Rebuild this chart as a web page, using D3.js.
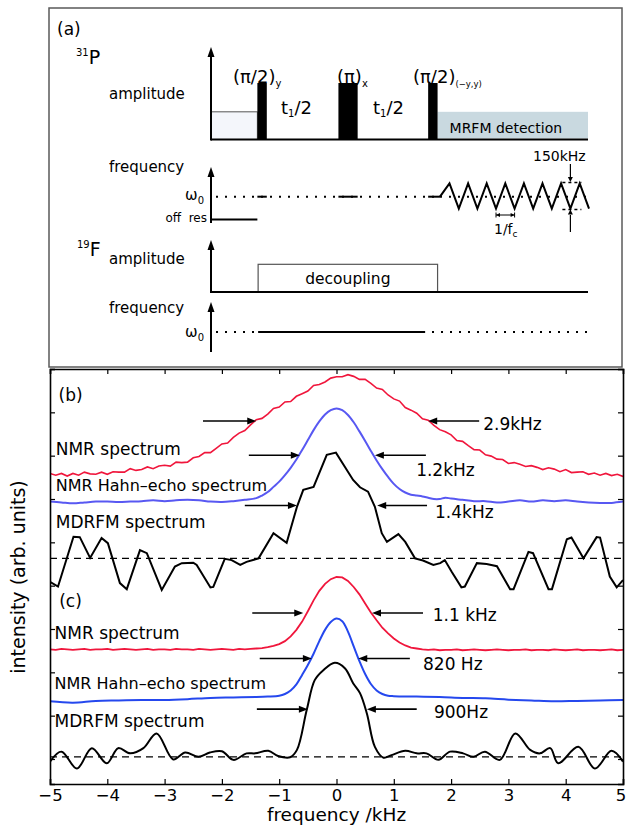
<!DOCTYPE html>
<html><head><meta charset="utf-8">
<script src="https://cdn.jsdelivr.net/npm/d3@7"></script>
<style>
body{margin:0;background:#fff}
svg text{font-family:"DejaVu Sans",sans-serif;fill:#000}
</style></head>
<body><svg id="fig" width="626" height="825"></svg>
<script>
// ================= DATA =================
// frequency axis (kHz)
const xTicks=[-5,-4,-3,-2,-1,0,1,2,3,4,5];
const yTicks=[0,1,2,3,4,5,6,7,8,9];
const freqStart=-5, freqStep=0.1;
// panel (b)
const nmrB=[6.59,6.55,6.59,6.53,6.59,6.55,6.62,6.58,6.57,6.62,
 6.57,6.63,6.62,6.62,6.70,6.66,6.68,6.74,6.70,6.76,
 6.78,6.76,6.85,6.84,6.85,6.95,6.98,7.07,7.07,7.17,
 7.27,7.29,7.42,7.52,7.58,7.71,7.83,7.86,7.96,8.09,
 8.12,8.24,8.25,8.37,8.43,8.49,8.62,8.64,8.70,8.79,
 8.82,8.82,8.87,8.83,8.76,8.76,8.67,8.56,8.53,8.40,
 8.31,8.26,8.11,8.05,7.98,7.85,7.82,7.70,7.60,7.55,
 7.48,7.35,7.33,7.23,7.14,7.13,7.02,6.99,6.92,6.91,
 6.82,6.84,6.80,6.75,6.77,6.73,6.68,6.72,6.69,6.63,
 6.68,6.61,6.62,6.63,6.57,6.60,6.55,6.59,6.54,6.57,
 6.52];
const hahnBx=[-5,-4.8,-4.6,-4.4,-4.2,-4,-3.8,-3.6,-3.4,-3.2,-3,-2.8,-2.6,-2.4,-2.2,-2,-1.8,-1.6,-1.4,
 -1.3,-1.2,-1.1,-1,-0.9,-0.8,-0.7,-0.6,-0.5,-0.4,-0.3,-0.2,-0.1,0,0.1,0.2,0.3,0.4,0.5,0.6,0.7,0.8,0.9,1,1.1,1.2,1.3,1.4,1.5,1.6,1.7,1.8,1.9,2,
 2.2,2.4,2.6,2.8,3,3.2,3.4,3.6,3.8,4,4.2,4.4,4.6,4.8,5];
const hahnBy=[5.94,5.92,5.90,5.92,5.94,5.94,5.93,5.94,5.95,5.97,5.95,5.97,5.98,5.97,5.94,5.93,5.95,5.98,6.02,
 6.08,6.16,6.28,6.40,6.55,6.72,6.91,7.13,7.36,7.59,7.79,7.95,8.05,8.09,8.05,7.94,7.77,7.56,7.34,7.11,6.89,6.69,6.51,6.35,6.23,6.15,6.10,6.08,6.06,6.03,6.00,6.00,6.03,6.01,
 5.98,5.95,5.95,5.92,5.94,5.97,5.94,5.97,5.95,5.97,5.94,5.92,5.91,5.91,5.94];
const mdrfmBx=[-5.00,-4.86,-4.59,-4.48,-4.30,-4.10,-3.99,-3.78,-3.66,-3.43,-3.31,-3.05,-2.82,-2.70,-2.50,-2.44,-2.20,-2.15,-1.95,-1.83,
 -1.68,-1.57,-1.36,-1.10,-0.87,-0.69,-0.58,-0.40,-0.17,-0.01,0.29,0.41,0.55,0.67,0.79,0.88,1.08,1.20,1.37,1.51,
 1.69,1.81,1.89,2.01,2.18,2.24,2.45,2.62,2.80,3.03,3.09,3.35,3.43,3.70,3.76,4.02,4.10,4.31,4.54,4.60,4.77,4.89,5.00];
const mdrfmBy=[4.09,3.98,5.13,5.12,4.64,5.10,4.98,4.06,3.92,4.82,4.75,3.90,4.44,4.52,4.53,4.48,3.96,3.97,4.62,4.59,
 4.48,4.55,4.63,5.21,4.99,5.82,6.21,6.28,7.02,7.07,6.44,6.27,6.17,5.82,5.21,5.01,5.19,5.01,4.63,4.58,
 4.48,4.52,4.59,4.32,3.96,3.98,4.52,4.50,4.45,3.92,3.92,4.78,4.75,3.92,3.92,5.07,5.11,4.63,5.12,5.11,4.21,3.96,4.13];
const baselineB=4.63;
// panel (c)
const nmrC=[2.53,2.52,2.54,2.53,2.52,2.53,2.54,2.52,2.53,2.53,
 2.54,2.52,2.53,2.54,2.53,2.52,2.53,2.54,2.52,2.53,
 2.53,2.52,2.54,2.53,2.53,2.52,2.54,2.53,2.52,2.53,
 2.54,2.53,2.52,2.54,2.53,
 2.54,2.55,2.56,2.58,2.61,2.65,2.72,2.83,2.98,3.17,3.41,3.66,3.88,4.04,4.15,4.20,4.19,4.11,3.97,3.80,3.59,3.38,3.20,3.03,2.90,2.78,2.69,2.62,2.57,2.55,2.53,
 2.52,2.53,2.51,2.52,2.52,2.53,2.51,2.52,2.53,2.52,
 2.51,2.52,2.53,2.52,2.51,2.52,2.52,2.53,2.51,2.52,
 2.52,2.51,2.53,2.52,2.51,2.52,2.53,2.51,2.52,2.52,
 2.51,2.52,2.53,2.51,2.52];
const hahnCx=[-5,-4.6,-4.2,-3.8,-3.4,-3,-2.6,-2.2,-1.8,-1.4,-1.2,-1,-0.9,-0.8,-0.7,-0.6,-0.5,-0.4,-0.3,-0.2,-0.1,0,0.1,0.2,0.3,0.4,0.5,0.6,0.7,0.8,0.9,1,1.4,1.8,2.2,2.6,3,3.4,3.8,4.2,4.6,5];
const hahnCy=[1.33,1.30,1.34,1.35,1.36,1.36,1.38,1.41,1.42,1.43,1.44,1.46,1.50,1.58,1.72,1.94,2.17,2.43,2.72,2.98,3.16,3.24,3.18,2.94,2.60,2.26,1.96,1.73,1.58,1.50,1.46,1.45,1.44,1.43,1.41,1.40,1.37,1.35,1.33,1.34,1.35,1.36];
const mdrfmCx=[-5.00,-4.80,-4.53,-4.27,-4.01,-3.81,-3.60,-3.37,-3.14,-2.85,-2.64,-2.41,-2.21,-2.00,-1.80,-1.57,-1.42,-1.19,-1.02,-0.81,
 -0.69,-0.52,-0.38,-0.23,-0.03,0.15,0.29,0.41,0.53,0.67,0.82,0.96,1.20,1.40,1.57,1.78,1.98,2.21,2.39,2.59,
 2.85,3.12,3.38,3.55,3.73,3.87,4.22,4.51,4.80,5.00];
const mdrfmCy=[-0.06,0.17,-0.22,0.25,-0.10,0.25,0.13,0.25,0.59,-0.01,0.15,0.05,0.15,0.18,-0.02,0.13,0.13,0.19,0.07,0.04,
 0.21,1.13,1.82,2.05,2.22,2.09,1.75,1.52,1.05,0.28,0.03,0.09,0.19,0.13,0.13,-0.02,0.17,0.13,0.05,0.17,
 -0.02,0.59,0.21,0.13,0.25,-0.10,0.28,-0.22,0.19,-0.06];
const baselineC=0.05;
// labels / annotations
const traceLabels=["NMR spectrum","NMR Hahn\u2013echo spectrum","MDRFM spectrum"];
const panelLabels=["(b)","(c)"];
const fwhmLabelsB=["2.9kHz","1.2kHz","1.4kHz"];
const fwhmLevelsB=[7.80,7.01,5.85];
const fwhmLeftB=[[-2.33,-1.40],[-1.53,-0.64],[-1.60,-0.69]];
const fwhmRightB=[[2.49,1.60],[1.56,0.67],[1.58,0.71]];
const fwhmLabelsC=["1.1 kHz","820 Hz","900Hz"];
const fwhmLevelsC=[3.37,2.32,1.15];
const fwhmLeftC=[[-1.47,-0.58],[-1.34,-0.43],[-1.39,-0.50]];
const fwhmRightC=[[1.51,0.62],[1.28,0.38],[1.40,0.53]];
// pulse sequence (a) - time in arbitrary units 0..100
const pulseLabels=["(\u03c0/2)","(\u03c0)","(\u03c0/2)"];
const pulseSubs=["y","x","(\u2212y,y)"];
const pulseStart=[12.3,33.8,57.6], pulseEnd=[14.8,38.9,60.1];
const preAmp=0.49, detectStart=60.1, detectEnd=100, detectAmp=0.49;
const decoupleStart=12.5, decoupleEnd=60.1, decoupleAmp=0.49;
const fFreqStart=12.5, fFreqEnd=56.8;
const zigT=[60.74,63.26,65.73,68.20,70.66,73.13,75.60,78.06,80.53,83.00,85.46,87.93,90.40,92.86,95.33,97.80,100.27];
const zigF=[0,0.58,-0.52,0.58,-0.52,0.58,-0.52,0.58,-0.52,0.58,-0.52,0.58,-0.52,0.58,-0.52,0.58,-0.52];
const offResF=-1;

// ================= DRAW =================
const svg=d3.select("#fig");
const FONT='"DejaVu Sans",sans-serif';

function head(g,x0,y0,dir,len,w){ // tip at x0,y0
  len=len||8; w=w||3;
  let p;
  if(dir==="right") p=[[x0,y0],[x0-len,y0-w],[x0-len,y0+w]];
  else if(dir==="left") p=[[x0,y0],[x0+len,y0-w],[x0+len,y0+w]];
  else if(dir==="up") p=[[x0,y0],[x0-w,y0+len],[x0+w,y0+len]];
  else p=[[x0,y0],[x0-w,y0-len],[x0+w,y0-len]];
  g.append("path").attr("d","M"+p.map(d=>d.join(",")).join("L")+"Z").attr("fill","#000");
}

// ---------- panel (a) ----------
const A=svg.append("g");
A.append("rect").attr("x",49).attr("y",8).attr("width",573).attr("height",359)
 .attr("fill","none").attr("stroke","#5a5a5a").attr("stroke-width",1.5);
const t=d3.scaleLinear().domain([0,100]).range([211,588]);
const amp1=d3.scaleLinear().domain([0,1]).range([139.5,83]);
const frq1=d3.scaleLinear().domain([0,1]).range([196.7,173.9]);
const amp2=d3.scaleLinear().domain([0,1]).range([292,235.5]);
const frq2=d3.scaleLinear().domain([0,1]).range([332,309]);

A.append("text").attr("x",57).attr("y",35).attr("font-size",17).text("(a)");
function nucleus(xp,yb,mass,sym){
  const tx=A.append("text").attr("x",xp).attr("y",yb);
  tx.append("tspan").attr("font-size",10).attr("dy",-8).text(mass);
  tx.append("tspan").attr("font-size",19).attr("dy",8).text(sym);
}
nucleus(76,64,"31","P");
nucleus(77,256,"19","F");
A.append("text").attr("x",109).attr("y",99).attr("font-size",15).text("amplitude");
A.append("text").attr("x",109).attr("y",172).attr("font-size",15).text("frequency");
A.append("text").attr("x",109).attr("y",264).attr("font-size",15).text("amplitude");
A.append("text").attr("x",109).attr("y",313).attr("font-size",15).text("frequency");

// 31P amplitude row
A.append("rect").attr("x",t(0)).attr("y",amp1(preAmp)).attr("width",t(pulseStart[0])-t(0)).attr("height",amp1(0)-amp1(preAmp))
 .attr("fill","#f4f6fb").attr("stroke","#555").attr("stroke-width",1);
A.append("rect").attr("x",t(detectStart)).attr("y",amp1(detectAmp)).attr("width",t(detectEnd)-t(detectStart)).attr("height",amp1(0)-amp1(detectAmp)-1)
 .attr("fill","#c9d9e0");
A.append("text").attr("x",t(detectStart)+12).attr("y",133).attr("font-size",14).text("MRFM detection");
pulseStart.forEach((s,i)=>{
  A.append("rect").attr("x",t(s)).attr("y",amp1(1)).attr("width",t(pulseEnd[i])-t(s)).attr("height",amp1(0)-amp1(1)).attr("fill","#000");
});
const plx=[233,337,413];
pulseLabels.forEach((l,i)=>{
  const tx=A.append("text").attr("x",plx[i]).attr("y",83).attr("font-size",18);
  tx.append("tspan").text(l);
  tx.append("tspan").attr("font-size",i===2?8.5:10).attr("dy",4).text(pulseSubs[i]);
});
[281,373].forEach(xp=>{
  const tx=A.append("text").attr("x",xp).attr("y",114).attr("font-size",18);
  tx.append("tspan").text("t");
  tx.append("tspan").attr("font-size",10).attr("dy",3).text("1");
  tx.append("tspan").attr("dy",-3).text("/2");
});
A.append("line").attr("x1",t(0)).attr("x2",t(100)).attr("y1",amp1(0)).attr("y2",amp1(0)).attr("stroke","#000").attr("stroke-width",2);
A.append("line").attr("x1",t(0)).attr("x2",t(0)).attr("y1",amp1(0)+1).attr("y2",56).attr("stroke","#000").attr("stroke-width",2);
head(A,t(0),47,"up",10,3.5);

// 31P frequency row
A.append("line").attr("x1",t(0)).attr("x2",t(0)).attr("y1",223).attr("y2",176).attr("stroke","#000").attr("stroke-width",2);
head(A,t(0),167,"up",10,3.5);
function omega(xEnd,yb){
  const tx=A.append("text").attr("x",xEnd).attr("y",yb).attr("text-anchor","end").attr("font-size",15);
  tx.append("tspan").text("\u03c9");
  tx.append("tspan").attr("font-size",10).attr("dy",4).text("0");
}
omega(204,200);
A.append("text").attr("x",207).attr("y",222).attr("text-anchor","end").attr("font-size",12).style("white-space","pre").text("off  res");
A.append("line").attr("x1",t(0)+5).attr("x2",t(zigT[0])).attr("y1",frq1(0)).attr("y2",frq1(0))
 .attr("stroke","#000").attr("stroke-width",2).attr("stroke-dasharray","2,7");
A.append("line").attr("x1",t(zigT[0])).attr("x2",t(100)).attr("y1",frq1(0)).attr("y2",frq1(0))
 .attr("stroke","#000").attr("stroke-width",2).attr("stroke-dasharray","2,7");
A.append("line").attr("x1",t(0)).attr("x2",t(pulseStart[0])).attr("y1",frq1(offResF)).attr("y2",frq1(offResF)).attr("stroke","#000").attr("stroke-width",2);
pulseStart.forEach((s,i)=>{
  const e=i===2?zigT[0]:pulseEnd[i];
  A.append("line").attr("x1",t(s)).attr("x2",t(e)).attr("y1",frq1(0)).attr("y2",frq1(0)).attr("stroke","#000").attr("stroke-width",2);
});
A.append("path").attr("d",d3.line().x(d=>t(d[0])).y(d=>frq1(d[1]))(zigT.map((v,i)=>[v,zigF[i]])))
 .attr("fill","none").attr("stroke","#000").attr("stroke-width",2).attr("stroke-linejoin","miter");
// 150 kHz marker
const mx=t(zigT[14]);
A.append("text").attr("x",533).attr("y",161).attr("font-size",14).text("150kHz");
A.append("line").attr("x1",mx).attr("x2",mx).attr("y1",164).attr("y2",177).attr("stroke","#000").attr("stroke-width",1.2);
head(A,mx,182,"down",5,2.5);
A.append("line").attr("x1",mx).attr("x2",mx).attr("y1",232).attr("y2",215).attr("stroke","#000").attr("stroke-width",1.2);
head(A,mx,209.5,"up",5,2.5);
[frq1(0.58)-1,frq1(-0.52)+1].forEach(yy=>{
  A.append("line").attr("x1",mx-8).attr("x2",mx+11).attr("y1",yy).attr("y2",yy).attr("stroke","#000").attr("stroke-width",1.5).attr("stroke-dasharray","3,3");
});
// 1/fc marker
const fa=t(zigT[6]), fb=t(zigT[8]);
A.append("line").attr("x1",fa).attr("x2",fb).attr("y1",215).attr("y2",215).attr("stroke","#000").attr("stroke-width",1);
head(A,fa,215,"left",4,2); head(A,fb,215,"right",4,2);
[fa,fb].forEach(xx=>A.append("line").attr("x1",xx).attr("x2",xx).attr("y1",212.5).attr("y2",217.5).attr("stroke","#000").attr("stroke-width",1));
{
  const tx=A.append("text").attr("x",494).attr("y",234).attr("font-size",14);
  tx.append("tspan").text("1/f");
  tx.append("tspan").attr("font-size",9).attr("dy",3).text("c");
}

// 19F amplitude row
A.append("rect").attr("x",t(decoupleStart)).attr("y",amp2(decoupleAmp)).attr("width",t(decoupleEnd)-t(decoupleStart)).attr("height",amp2(0)-amp2(decoupleAmp))
 .attr("fill","#fff").attr("stroke","#555").attr("stroke-width",1.2);
A.append("text").attr("x",(t(decoupleStart)+t(decoupleEnd))/2).attr("y",284).attr("text-anchor","middle").attr("font-size",15.5).text("decoupling");
A.append("line").attr("x1",t(0)).attr("x2",t(100)).attr("y1",amp2(0)).attr("y2",amp2(0)).attr("stroke","#000").attr("stroke-width",2);
A.append("line").attr("x1",t(0)).attr("x2",t(0)).attr("y1",amp2(0)+1).attr("y2",249).attr("stroke","#000").attr("stroke-width",2);
head(A,t(0),240,"up",10,3.5);

// 19F frequency row
A.append("line").attr("x1",t(0)).attr("x2",t(0)).attr("y1",352).attr("y2",311).attr("stroke","#000").attr("stroke-width",2);
head(A,t(0),302,"up",10,3.5);
omega(204,337);
A.append("line").attr("x1",t(0)+5).attr("x2",t(100)).attr("y1",frq2(0)).attr("y2",frq2(0))
 .attr("stroke","#000").attr("stroke-width",2).attr("stroke-dasharray","2,7");
A.append("line").attr("x1",t(fFreqStart)).attr("x2",t(fFreqEnd)).attr("y1",frq2(0)).attr("y2",frq2(0)).attr("stroke","#000").attr("stroke-width",2);

// ---------- panels (b),(c) ----------
const x=d3.scaleLinear().domain([-5,5]).range([50,623]);
const y=d3.scaleLinear().domain([-0.577,9]).range([784,369]);
const P=svg.append("g");
P.append("clipPath").attr("id","clip").append("rect").attr("x",50).attr("y",369).attr("width",573).attr("height",415);
const C=P.append("g").attr("clip-path","url(#clip)");

const lin=d3.line().x(d=>x(d[0])).y(d=>y(d[1]));
const smooth=d3.line().x(d=>x(d[0])).y(d=>y(d[1])).curve(d3.curveCatmullRom.alpha(0.5));
const grid=arr=>arr.map((v,i)=>[freqStart+i*freqStep,v]);
const pairs=(xs,ys)=>xs.map((v,i)=>[v,ys[i]]);

[baselineB,baselineC].forEach(b=>{
  C.append("line").attr("x1",x(-5)).attr("x2",x(5)).attr("y1",y(b)).attr("y2",y(b))
   .attr("stroke","#000").attr("stroke-width",1.4).attr("stroke-dasharray","7,5");
});
C.append("path").attr("d",lin(grid(nmrB))).attr("fill","none").attr("stroke","#f0163c").attr("stroke-width",1.6);
C.append("path").attr("d",smooth(pairs(hahnBx,hahnBy))).attr("fill","none").attr("stroke","#5858f2").attr("stroke-width",2);
C.append("path").attr("d",lin(pairs(mdrfmBx,mdrfmBy))).attr("fill","none").attr("stroke","#000").attr("stroke-width",2);
C.append("path").attr("d",lin(grid(nmrC))).attr("fill","none").attr("stroke","#f0163c").attr("stroke-width",1.8);
C.append("path").attr("d",smooth(pairs(hahnCx,hahnCy))).attr("fill","none").attr("stroke","#2548ee").attr("stroke-width",2);
C.append("path").attr("d",smooth(pairs(mdrfmCx,mdrfmCy))).attr("fill","none").attr("stroke","#000").attr("stroke-width",2);

// axes
function styleAxis(g){
  g.selectAll(".domain").attr("stroke","#000").attr("stroke-width",1.6);
  g.selectAll(".tick line").attr("stroke","#000").attr("stroke-width",1.2);
  g.attr("font-family",FONT);
}
const bx=P.append("g").attr("transform","translate(0,784)")
 .call(d3.axisBottom(x).tickValues(xTicks).tickSize(-5).tickPadding(5).tickFormat(d3.format("d")))
 .call(styleAxis).attr("font-size",16.5);
bx.selectAll(".tick text").filter(d=>d===5).attr("dx",-2.5);
P.append("g").attr("transform","translate(0,369)")
 .call(d3.axisTop(x).tickValues(xTicks).tickSize(-5).tickFormat(()=>"")).call(styleAxis);
P.append("g").attr("transform","translate(50,0)")
 .call(d3.axisLeft(y).tickValues(yTicks).tickSize(-5).tickFormat(()=>"")).call(styleAxis);
P.append("g").attr("transform","translate(623,0)")
 .call(d3.axisRight(y).tickValues(yTicks).tickSize(-5).tickFormat(()=>"")).call(styleAxis);
P.selectAll(".tick text").attr("fill","#000");

P.append("text").attr("x",(x(-5)+x(5))/2).attr("y",821).attr("text-anchor","middle").attr("font-size",18.5).text("frequency /kHz");
P.append("text").attr("transform","translate(25,577) rotate(-90)").attr("text-anchor","middle").attr("font-size",19).text("intensity (arb. units)");

// labels
const panelPos=[[-4.85,8.26],[-4.84,3.51]];
panelLabels.forEach((l,i)=>P.append("text").attr("x",x(panelPos[i][0])).attr("y",y(panelPos[i][1])).attr("font-size",17).text(l));
const tlPosB=[7.02,6.18,5.33], tlPosC=[2.77,1.61,0.74];
traceLabels.forEach((l,i)=>{
  const fs=i===1?16:17;
  P.append("text").attr("x",x(-4.9)).attr("y",y(tlPosB[i])).attr("font-size",fs).text(l);
  P.append("text").attr("x",x(-4.92)).attr("y",y(tlPosC[i])).attr("font-size",fs).text(l);
});
function fwhm(levels,left,right,labels,lpos){
  levels.forEach((lv,i)=>{
    const yy=y(lv);
    const l0=x(left[i][0]), l1=x(left[i][1]);
    P.append("line").attr("x1",l0).attr("x2",l1-7).attr("y1",yy).attr("y2",yy).attr("stroke","#000").attr("stroke-width",1.6);
    head(P,l1,yy,"right",9,3.5);
    const r0=x(right[i][0]), r1=x(right[i][1]);
    P.append("line").attr("x1",r0).attr("x2",r1+7).attr("y1",yy).attr("y2",yy).attr("stroke","#000").attr("stroke-width",1.6);
    head(P,r1,yy,"left",9,3.5);
    P.append("text").attr("x",x(lpos[i][0])).attr("y",y(lpos[i][1])).attr("font-size",17).text(labels[i]);
  });
}
fwhm(fwhmLevelsB,fwhmLeftB,fwhmRightB,fwhmLabelsB,[[2.56,7.59],[1.39,6.53],[1.72,5.56]]);
fwhm(fwhmLevelsC,fwhmLeftC,fwhmRightC,fwhmLabelsC,[[1.68,3.18],[1.51,2.05],[1.70,0.95]]);
</script></body></html>
